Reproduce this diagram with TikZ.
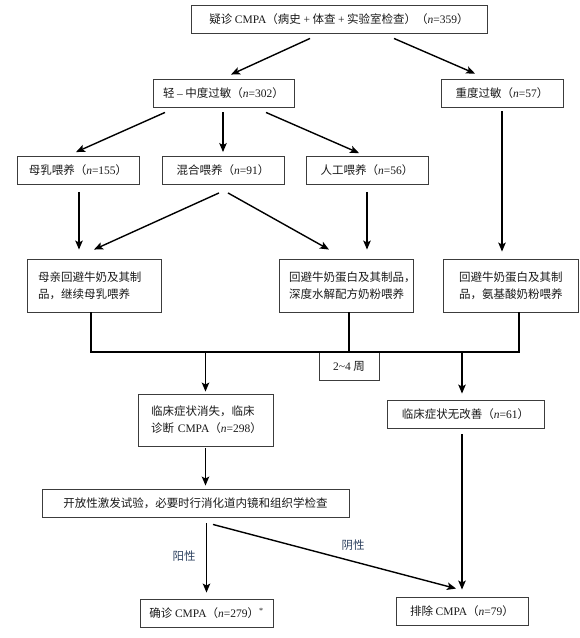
\documentclass[tikz,border=0pt]{standalone}
\usepackage{fontspec}
\setmainfont{Liberation Serif}
\newfontfamily\zhfont{Noto Sans CJK SC}
\usetikzlibrary{calc,arrows.meta}
\newcommand{\lat}[1]{{\rmfamily #1}}
\newcommand{\nn}[1]{\lat{\textit{n}=#1}}
\definecolor{boxline}{RGB}{60,60,60}
\definecolor{textgray}{RGB}{25,25,25}
\definecolor{signcol}{RGB}{45,65,95}

\begin{document}
\begin{tikzpicture}[x=1pt, y=-1pt,
    flowbox/.style={draw=boxline, line width=0.9pt, rectangle, inner sep=0pt, minimum height=28pt, text=textgray, font=\zhfont\fontsize{11.5}{17}\selectfont},
    twoline/.style={align=left, minimum height=53pt},
    flowarrow/.style={line width=1.4pt, -{Stealth[length=9pt,width=7.5pt,inset=2pt]}},
    flowline/.style={line width=1.4pt}]
    \useasboundingbox (0,0) rectangle (580,638);

    \node[flowbox, minimum width=296pt] (suspect) at (339,19) {疑诊 \lat{CMPA}（病史 \lat{+} 体查 \lat{+} 实验室检查）（\nn{359}）};
    \node[flowbox, minimum width=141pt] (mild) at (223.5,93) {轻 \lat{–} 中度过敏（\nn{302}）};
    \node[flowbox, minimum width=122pt] (severe) at (502,93) {重度过敏（\nn{57}）};

    \node[flowbox, minimum width=122pt] (breast) at (78,170.5) {母乳喂养（\nn{155}）};
    \node[flowbox, minimum width=122pt] (mixed) at (223,170.5) {混合喂养（\nn{91}）};
    \node[flowbox, minimum width=122pt] (formula) at (367,170.5) {人工喂养（\nn{56}）};

    \node[flowbox, twoline, text width=112pt, inner xsep=11pt] (avoidA) at (94,285.5) {母亲回避牛奶及其制\\品，继续母乳喂养};
    \node[flowbox, twoline, text width=114pt, inner xsep=10pt] (avoidB) at (346,285.5) {回避牛奶蛋白及其制品，\\深度水解配方奶粉喂养};
    \node[flowbox, twoline, text width=103pt, inner xsep=16pt] (avoidC) at (510.5,285.5) {回避牛奶蛋白及其制\\品，氨基酸奶粉喂养};

    \node[flowbox, minimum width=60pt, anchor=north] (weeks) at (349,352) {\lat{2\textasciitilde 4} 周};

    \node[flowbox, twoline, text width=109pt, inner xsep=13pt, minimum height=52pt] (gone) at (205.5,420) {临床症状消失，临床\\诊断~\lat{CMPA}（\nn{298}）};
    \node[flowbox, minimum width=157pt] (noimp) at (465.5,414) {临床症状无改善（\nn{61}）};

    \node[flowbox, minimum width=307pt] (challenge) at (195.5,503) {开放性激发试验，必要时行消化道内镜和组织学检查};

    \node[flowbox, minimum width=133pt] (confirm) at (206.5,613) {确诊 \lat{CMPA}（\nn{279}）\lat{\textsuperscript{*}}};
    \node[flowbox, minimum width=132pt] (exclude) at (462,611) {排除 \lat{CMPA}（\nn{79}）};

    \node[text=signcol, font=\zhfont\fontsize{11.5}{17}\selectfont] (positive) at (184,556) {阳性};
    \node[text=signcol, font=\zhfont\fontsize{11.5}{17}\selectfont] (negative) at (353,545) {阴性};

    \draw[flowarrow] ($(suspect.south)+(-29,5)$) -- ($(mild.north)+(7.5,-4)$);
    \draw[flowarrow] ($(suspect.south)+(55,5)$) -- ($(severe.north)+(-27,-5)$);
    \draw[flowarrow] ($(mild.south)+(-58.5,5)$) -- ($(breast.north)+(-2,-4)$);
    \draw[flowarrow] ($(mixed.north |- mild.south)+(0,5)$) -- ($(mixed.north)+(0,-4)$);
    \draw[flowarrow] ($(mild.south)+(42.5,5)$) -- ($(formula.north)+(-8,-3)$);
    \draw[flowarrow] ($(severe.south)+(0,4)$) -- ($(severe.south |- avoidC.north)+(0,-7)$);
    \draw[flowarrow] ($(breast.south)+(1,7)$) -- ($(breast.south |- avoidA.north)+(1,-9)$);
    \draw[flowarrow] ($(mixed.south)+(-4,8)$) -- ($(avoidA.north)+(0,-9)$);
    \draw[flowarrow] ($(mixed.south)+(5,8)$) -- ($(avoidB.north)+(-17,-9)$);
    \draw[flowarrow] ($(formula.south)+(0,7)$) -- ($(formula.south |- avoidB.north)+(0,-9)$);

    \draw[flowline] ($(avoidA.south)+(-3,0)$) |- ($(weeks.north -| avoidC.south)+(8.5,0)$) -- ($(avoidC.south)+(8.5,0)$);
    \draw[flowline] (avoidB.south -| weeks.north) -- (weeks.north);
    \draw[flowarrow] (gone.north |- weeks.north) -- ($(gone.north)+(0,-2)$);
    \draw[flowarrow] (weeks.north -| exclude.north) -- ($(exclude.north |- noimp.north)+(0,-6)$);

    \draw[flowarrow] ($(exclude.north |- noimp.south)+(0,6)$) -- ($(exclude.north)+(0,-7)$);
    \draw[flowarrow] ($(gone.south)+(0,2)$) -- ($(gone.south |- challenge.north)+(0,-3)$);
    \draw[flowarrow] ($(confirm.north |- challenge.south)+(0,6)$) -- ($(confirm.north)+(0,-6)$);
    \draw[flowarrow] ($(challenge.south)+(17.5,7)$) -- ($(exclude.north)+(-6,-8)$);
\end{tikzpicture}
\end{document}
